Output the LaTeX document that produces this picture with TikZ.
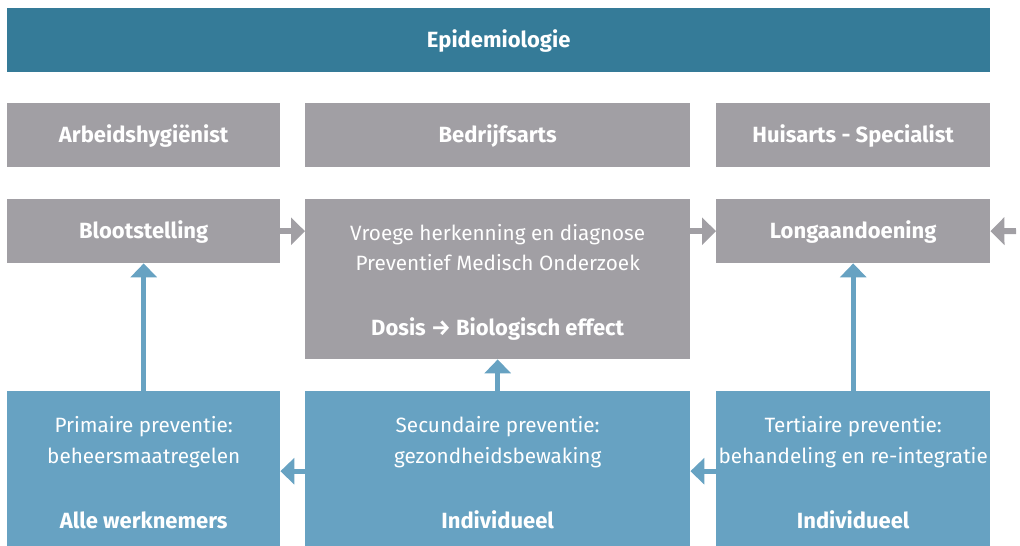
\documentclass[tikz,border=0pt]{standalone}
\usepackage{fontspec}
\setmainfont{Fira Sans}
\usetikzlibrary{arrows.meta}
\definecolor{epiteal}{HTML}{357B98}
\definecolor{boxgray}{HTML}{A19FA4}
\definecolor{prevblue}{HTML}{67A2C2}
\tikzset{
  box/.style={fill=#1, draw=none, anchor=north west, inner sep=0pt,
    text=white, text height=15pt, text depth=0pt,
    font=\fontsize{22}{26}\selectfont\bfseries},
  plain/.style={text=white, inner sep=0pt, anchor=base, font=\fontsize{20.7}{25}\selectfont},
  strong/.style={text=white, inner sep=0pt, anchor=base, font=\fontsize{22}{26}\selectfont\bfseries},
  grayarrow/.style={draw=boxgray, line width=6pt, -{Triangle[length=14pt,width=27pt]}},
  bluearrow/.style={draw=prevblue, line width=5pt, -{Triangle[length=14pt,width=26pt]}},
}
\begin{document}
\begin{tikzpicture}[x=1pt,y=-1pt]
\useasboundingbox (0,0) rectangle (1020,546);

% top bar and roles
\node[box=epiteal, minimum width=983pt, minimum height=64pt] (epi) at (7,8) {Epidemiologie};
\node[box=boxgray, minimum width=273pt, minimum height=64pt] (arb) at (7,103) {Arbeidshygiënist};
\node[box=boxgray, minimum width=385pt, minimum height=64pt] (bed) at (305,103) {Bedrijfsarts};
\node[box=boxgray, minimum width=274pt, minimum height=64pt] (hui) at (716,103) {Huisarts - Specialist};

% middle row
\node[box=boxgray, minimum width=273pt, minimum height=64pt] (bloot) at (7,199) {Blootstelling};
\node[box=boxgray, minimum width=385pt, minimum height=160pt] (vroeg) at (305,199) {};
\node[box=boxgray, minimum width=274pt, minimum height=64pt] (long) at (716,199) {Longaandoening};
\node[plain] (vroega) at ([yshift=-41pt]vroeg.north) {Vroege herkenning en diagnose};
\node[plain] (vroegb) at ([yshift=-71pt]vroeg.north) {Preventief Medisch Onderzoek};
\node[strong] (dosis) at ([yshift=-136pt]vroeg.north) {Dosis → Biologisch effect};

% prevention row
\node[box=prevblue, minimum width=273pt, minimum height=155pt] (prim) at (7,391) {};
\node[box=prevblue, minimum width=385pt, minimum height=155pt] (sec) at (305,391) {};
\node[box=prevblue, minimum width=274pt, minimum height=155pt] (ter) at (716,391) {};
\node[plain] (prima) at ([yshift=-41pt]prim.north) {Primaire preventie:};
\node[plain] (primb) at ([yshift=-72pt]prim.north) {beheersmaatregelen};
\node[strong] (primc) at ([yshift=-137pt]prim.north) {Alle werknemers};
\node[plain] (seca) at ([yshift=-41pt]sec.north) {Secundaire preventie:};
\node[plain] (secb) at ([yshift=-72pt]sec.north) {gezondheidsbewaking};
\node[strong] (secc) at ([yshift=-137pt]sec.north) {Individueel};
\node[plain] (tera) at ([yshift=-41pt]ter.north) {Tertiaire preventie:};
\node[plain] (terb) at ([yshift=-72pt]ter.north) {behandeling en re-integratie};
\node[strong] (terc) at ([yshift=-137pt]ter.north) {Individueel};

% connectors
\coordinate (rightend) at (1016,231);
\draw[grayarrow] (bloot.east) -- (bloot.east -| vroeg.west);
\draw[grayarrow] (long.west -| vroeg.east) -- (long.west);
\draw[grayarrow] (rightend) -- (long.east);
\draw[bluearrow] ([yshift=-2.5pt]sec.west) -- ([yshift=-2.5pt]sec.west -| prim.east);
\draw[bluearrow] ([yshift=-2.5pt]ter.west) -- ([yshift=-2.5pt]ter.west -| sec.east);
\draw[bluearrow] (prim.north) -- (prim.north |- bloot.south);
\draw[bluearrow] (sec.north) -- (sec.north |- vroeg.south);
\draw[bluearrow] (ter.north) -- (ter.north |- long.south);

\end{tikzpicture}
\end{document}
